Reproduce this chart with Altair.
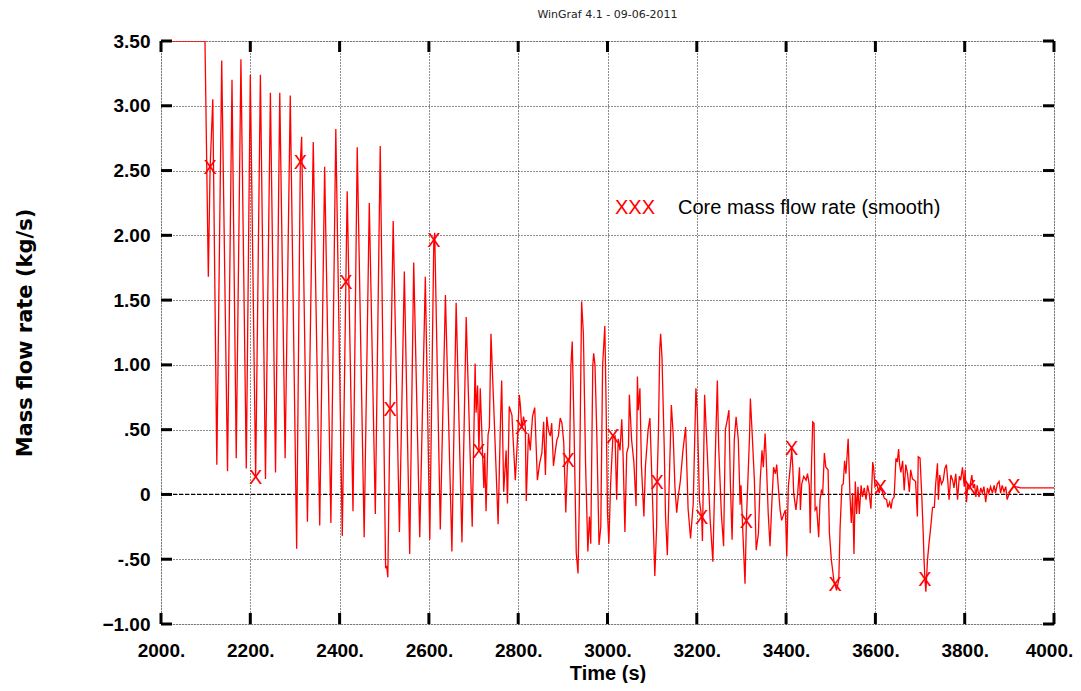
import altair as alt
import pandas as pd

# ---- data (time s, mass flow kg/s) ----
seg_2000_2400 = [(2000, 3.5), (2098.5, 3.5), (2106, 1.68), (2116, 3.05), (2125, 0.23), (2136, 3.35),
    (2149, 0.18), (2159, 3.2), (2168.5, 0.28), (2179, 3.36), (2191, 0.2), (2200, 3.24), (2222.6, 3.24),
    (2234, 0.12), (2245, 3.1), (2256.5, 0.17), (2266, 3.1), (2278, 0.28), (2289.5, 3.08), (2303.8, -0.42),
    (2315, 2.76), (2328, -0.21), (2341, 2.72), (2355.5, -0.24), (2366.5, 2.53), (2380.5, -0.22), (2391.5, 2.82)]
seg_2400_2700 = [(2406, -0.32), (2417, 2.34), (2430, -0.13), (2439.5, 2.68), (2455, -0.33), (2466.5, 2.25),
    (2480, -0.15), (2491, 2.69), (2503, -0.57), (2505.5, -0.55), (2508, -0.64), (2520, 2.11), (2534, -0.29),
    (2545, 1.72), (2557, -0.46), (2566, 1.79), (2579.5, -0.33), (2592, 1.68), (2602, -0.35), (2613, 2.02),
    (2625.5, -0.27), (2637, 1.54), (2651.5, -0.44), (2661, 1.48), (2674, -0.37), (2683.5, 1.37), (2697, -0.25)]
seg_2700_2900 = [(2703.5, 1.01), (2705.7, 0.63), (2709, 0.84), (2715, 0.82), (2723, 0.05), (2725, 0.32),
    (2728, -0.13), (2732.5, 0.46), (2735.5, 0.52), (2739, 1.24), (2745, 0.70), (2755, -0.23), (2760, 0.52),
    (2763, 0.88), (2767.5, 0.02), (2773, 0.34), (2776, -0.07), (2780, 0.68), (2786, 0.61), (2788, 0.47),
    (2793.5, 0.11), (2797, 0.34), (2799.5, 0.50), (2802.5, 0.77), (2805, 0.68), (2812, 0.60), (2816, 0.52),
    (2818, -0.05), (2823, 0.47), (2827, 0.34), (2832, 0.60), (2837, 0.67), (2843, 0.11), (2848, 0.24),
    (2853, 0.32), (2857, 0.56), (2861, 0.15), (2864, 0.60), (2868, 0.49), (2872, 0.45), (2875, 0.55),
    (2879, 0.22), (2883, 0.33), (2886.6, 0.42), (2890, 0.45), (2894, 0.59), (2898, 0.55)]
seg_2900_3100 = [(2902, 0.40), (2906.6, -0.14), (2910, 0.22), (2915, 0.27), (2918, 0.99), (2921, 1.18),
    (2925, 0.52), (2930, -0.45), (2934, -0.61), (2937, -0.04), (2942, 1.49), (2946, 1.24), (2951, 0.22),
    (2956, -0.44), (2959.5, -0.17), (2962.5, -0.38), (2967, 0.99), (2969, 1.09), (2972, 1.0), (2976, 0.47),
    (2981, -0.39), (2985, -0.25), (2989, 0.99), (2994, 1.30), (2996.7, 0.73), (3000, -0.14), (3003, -0.38),
    (3007, 0.08), (3017, 0.45), (3020.5, -0.04), (3024, 0.43), (3028, 0.34), (3032, 0.58), (3035, 0.29),
    (3039, -0.29), (3043, 0.32), (3047, 0.37), (3049, 0.77), (3054, 0.42), (3059, 0.25), (3064, -0.09),
    (3067, 0.91), (3069, 0.65), (3072.6, 0.82), (3076, 0.22), (3081.5, -0.17), (3085, 0.22), (3091, 0.50),
    (3095, 0.59)]
seg_3100_3300 = [(3101, -0.05), (3106, -0.63), (3110, -0.25), (3114, 0.47), (3117, 1.12), (3119, 1.24),
    (3122, 1.06), (3127, 0.37), (3130, -0.17), (3134, -0.47), (3138, 0.06), (3143, 0.69), (3147, 0.47),
    (3151, 0.06), (3155, -0.14), (3159, 0.0), (3163, 0.1), (3169, 0.34), (3175, 0.52), (3180.5, -0.11),
    (3186, -0.34), (3192, -0.07), (3198, 0.82), (3201, 0.65), (3206, -0.05), (3212.6, -0.36), (3217.5, 0.77),
    (3225, 0.2), (3230, -0.2), (3236, -0.52), (3242, 0.37), (3246, 0.88), (3249, 0.37), (3255, -0.15),
    (3260, -0.40), (3264, 0.50), (3268, 0.57), (3272, 0.65), (3275, 0.11), (3279, -0.35), (3284, 0.42),
    (3288, 0.60), (3293, 0.42), (3297, -0.08), (3299, 0.07)]
seg_3300_3500 = [(3303, -0.28), (3308, -0.69), (3318, 0.44), (3320, 0.74), (3324, 0.47), (3329, 0.11),
    (3333, -0.43), (3338, -0.30), (3342, 0.11), (3346, 0.34), (3349, 0.21), (3353, 0.47), (3355, 0.32),
    (3360, -0.15), (3364, -0.40), (3368, -0.07), (3372, 0.21), (3376, 0.16), (3379, 0.23), (3382, 0.08),
    (3386.6, -0.12), (3390, -0.20), (3395, -0.15), (3398.5, -0.12), (3401.5, -0.48), (3405, 0.06), (3409, 0.20),
    (3415, 0.21), (3417, 0.01), (3422, -0.12), (3426, 0.01), (3430, 0.21), (3432, -0.12), (3435, 0.08),
    (3439.5, 0.14), (3444.7, 0.11), (3448, 0.16), (3452, 0.07), (3454, -0.30), (3457, 0.24), (3459.6, 0.56),
    (3462.6, 0.55), (3465, -0.12), (3468.5, -0.10), (3473, -0.33), (3476, -0.04), (3479, 0.03), (3482, 0.01),
    (3485.7, 0.32), (3489, 0.21), (3494, 0.19), (3497, -0.30)]
seg_3500_3700 = [(3501.5, -0.51), (3508, -0.69), (3513, -0.74), (3518, -0.66), (3521, -0.25), (3525, 0.07),
    (3528, 0.08), (3531, 0.26), (3534, 0.16), (3539, 0.43), (3543, 0.0), (3546, -0.22), (3549, 0.01),
    (3552, -0.46), (3555, 0.10), (3558, -0.15), (3561, 0.06), (3564, -0.15), (3568, 0.07), (3571, -0.02),
    (3575, 0.05), (3579, -0.04), (3582.5, 0.07), (3586, 0.01), (3590, -0.11), (3594, 0.25), (3596, 0.21),
    (3599, 0.06), (3603, 0.08), (3608.6, 0.01), (3614.6, 0.03), (3620, -0.03), (3625, -0.04), (3628, -0.10),
    (3632, -0.06), (3635, -0.11), (3638, -0.04), (3642, -0.02), (3646, 0.28), (3649, 0.25), (3652, 0.35),
    (3654, 0.24), (3657, 0.17), (3661, 0.26), (3664.5, 0.03), (3668, 0.23), (3672, 0.16), (3676, 0.02),
    (3679, 0.19), (3683, 0.12), (3687, 0.11), (3690, 0.10), (3694, -0.17), (3696, 0.29)]
seg_3700_4000 = [(3700, 0.28), (3704, -0.02), (3707, -0.29), (3709, -0.51), (3713, -0.75), (3716.6, -0.51),
    (3720, -0.38), (3724, -0.25), (3728, -0.10), (3732, -0.10), (3735, 0.08), (3739, 0.24), (3741, -0.04),
    (3744, 0.15), (3748, 0.08), (3752, 0.11), (3755.6, 0.20), (3759, 0.23), (3762, 0.11), (3765, -0.04),
    (3769, 0.15), (3773, 0.11), (3776, 0.05), (3780, 0.16), (3784, -0.04), (3788, 0.14), (3791, 0.11),
    (3795, 0.21), (3799, 0.06), (3801, 0.19), (3804, -0.06), (3807, 0.08), (3816, 0.15), (3819, 0.05),
    (3822, 0.08), (3825, -0.02), (3828, 0.07), (3832, -0.02), (3836, 0.05), (3839.5, 0.01), (3843, 0.06),
    (3847, -0.06), (3851, 0.05), (3854, 0.01), (3858, 0.06), (3862, 0.01), (3866, 0.07), (3869, 0.01),
    (3873, 0.08), (3877, 0.10), (3880.5, 0.01), (3884, 0.07), (3888, 0.02), (3892, 0.06), (3895, -0.04),
    (3899, 0.0), (3903, 0.03), (3914, 0.06), (3925, 0.05), (3948, 0.05), (4000, 0.05)]

marker_t = [2110, 2212, 2312, 2414, 2513, 2611, 2712, 2808, 2912, 3012, 3111, 3211, 3311, 3412.7,
            3510, 3611, 3711, 3811, 3910]
marker_y = [2.52, 0.13, 2.56, 1.63, 0.65, 1.96, 0.33, 0.51, 0.26, 0.44, 0.09, -0.18, -0.21, 0.35,
            -0.70, 0.05, -0.66, 0.05, 0.06]

x_ticks = [2000, 2200, 2400, 2600, 2800, 3000, 3200, 3400, 3600, 3800, 4000]
y_ticks = [-1.0, -0.5, 0.0, 0.5, 1.0, 1.5, 2.0, 2.5, 3.0, 3.5]

series_name = "Core mass flow rate (smooth)"
chart_title = "WinGraf 4.1 - 09-06-2011"
x_title = "Time (s)"
y_title = "Mass flow rate (kg/s)"

# ---- build tables ----
pts = (seg_2000_2400 + seg_2400_2700 + seg_2700_2900 + seg_2900_3100 + seg_3100_3300
       + seg_3300_3500 + seg_3500_3700 + seg_3700_4000 + list(zip(marker_t, marker_y)))
line_df = pd.DataFrame(pts, columns=["t", "y"]).sort_values("t").reset_index(drop=True)
mark_df = pd.DataFrame({"t": marker_t, "y": marker_y})

W, H = 893, 583
X0, X1, Y0, Y1 = 2000, 4000, -1.0, 3.5
tick_px = 11
tlx = tick_px * (X1 - X0) / W
tly = tick_px * (Y1 - Y0) / H
tick_rows = []
for v in x_ticks:
    tick_rows.append({"t": v, "t2": v, "y": Y0, "y2": Y0 + tly})
    tick_rows.append({"t": v, "t2": v, "y": Y1, "y2": Y1 - tly})
for v in y_ticks:
    tick_rows.append({"t": X0, "t2": X0 + tlx, "y": v, "y2": v})
    tick_rows.append({"t": X1, "t2": X1 - tlx, "y": v, "y2": v})
tick_df = pd.DataFrame(tick_rows)

FONT = "Liberation Sans"
xscale = alt.Scale(domain=[X0, X1], nice=False, zero=False)
yscale = alt.Scale(domain=[Y0, Y1], nice=False, zero=False)

xaxis = alt.Axis(values=x_ticks, format="d", labelExpr="datum.label + '.'", title=x_title,
                 labelFont=FONT, labelFontSize=19, labelFontWeight="bold", labelColor="black",
                 labelPadding=17, labelFlush=False, labelOverlap=False,
                 labelOffset=alt.condition("datum.value == 4000", alt.value(-5), alt.value(0)),
                 ticks=False, domain=False, grid=True, gridColor="black", gridDash=[1, 2],
                 gridWidth=1, gridOpacity=0.9,
                 titleFont=FONT, titleFontSize=20, titleFontWeight="bold", titleColor="black",
                 titleX=W / 2, titleY=49, titleBaseline="middle", titleAlign="center")
yaxis = alt.Axis(values=y_ticks, title=y_title,
                 labelExpr="datum.value == 0 ? '0' : datum.value == 0.5 ? '.50' : datum.value == -0.5 ? '-.50' : format(datum.value, '.2f')",
                 labelFont=FONT, labelFontSize=19, labelFontWeight="bold", labelColor="black",
                 labelPadding=11, labelFlush=False, labelOverlap=False,
                 ticks=False, domain=False, grid=True, gridColor="black", gridDash=[1, 2],
                 gridWidth=1, gridOpacity=0.9,
                 titleFont="DejaVu Sans", titleFontSize=21, titleFontWeight="bold", titleColor="black",
                 titleAngle=-90, titleX=-136, titleY=H / 2, titleBaseline="middle", titleAlign="center")

base_x = alt.X("t:Q", scale=xscale, axis=xaxis)
base_y = alt.Y("y:Q", scale=yscale, axis=yaxis)

zero_line = alt.Chart(pd.DataFrame({"t": [X0], "t2": [X1], "y": [0.0]})).mark_rule(
    color="black", strokeWidth=1.2, strokeDash=[4, 2]).encode(x=base_x, x2="t2:Q", y=base_y)

ticks = alt.Chart(tick_df).mark_rule(color="black", strokeWidth=3).encode(
    x=base_x, x2="t2:Q", y=base_y, y2="y2:Q")

line = alt.Chart(line_df).mark_line(color="#ff0000", strokeWidth=1.3, clip=True).encode(
    x=base_x, y=base_y, order="t:Q")

markers = alt.Chart(mark_df).mark_text(text="X", font=FONT, fontSize=20, color="#ff0000",
                                        align="center", baseline="middle").encode(x=base_x, y=base_y)

legend_df = pd.DataFrame({"sym": ["XXX"], "name": [series_name]})
legend_sym = alt.Chart(legend_df).mark_text(font=FONT, fontSize=20, color="#ff0000", align="left",
                                            baseline="middle").encode(
    text="sym:N", x=alt.value(454), y=alt.value(167))
legend_txt = alt.Chart(legend_df).mark_text(font=FONT, fontSize=20, color="black", align="left",
                                            baseline="middle").encode(
    text="name:N", x=alt.value(517), y=alt.value(167))

chart = alt.layer(zero_line, line, markers, ticks, legend_sym, legend_txt).properties(
    width=W, height=H,
    title=alt.TitleParams(chart_title, font="DejaVu Sans", fontSize=11, fontWeight="normal",
                          color="#222", anchor="middle", offset=12),
    padding={"left": 153, "top": 33, "right": 19, "bottom": 59},
    autosize=alt.AutoSizeParams(type="none"),
).configure_view(stroke="black", strokeWidth=3).configure(background="white")

chart.save("out.html", embed_options={"renderer": "svg", "actions": False})
